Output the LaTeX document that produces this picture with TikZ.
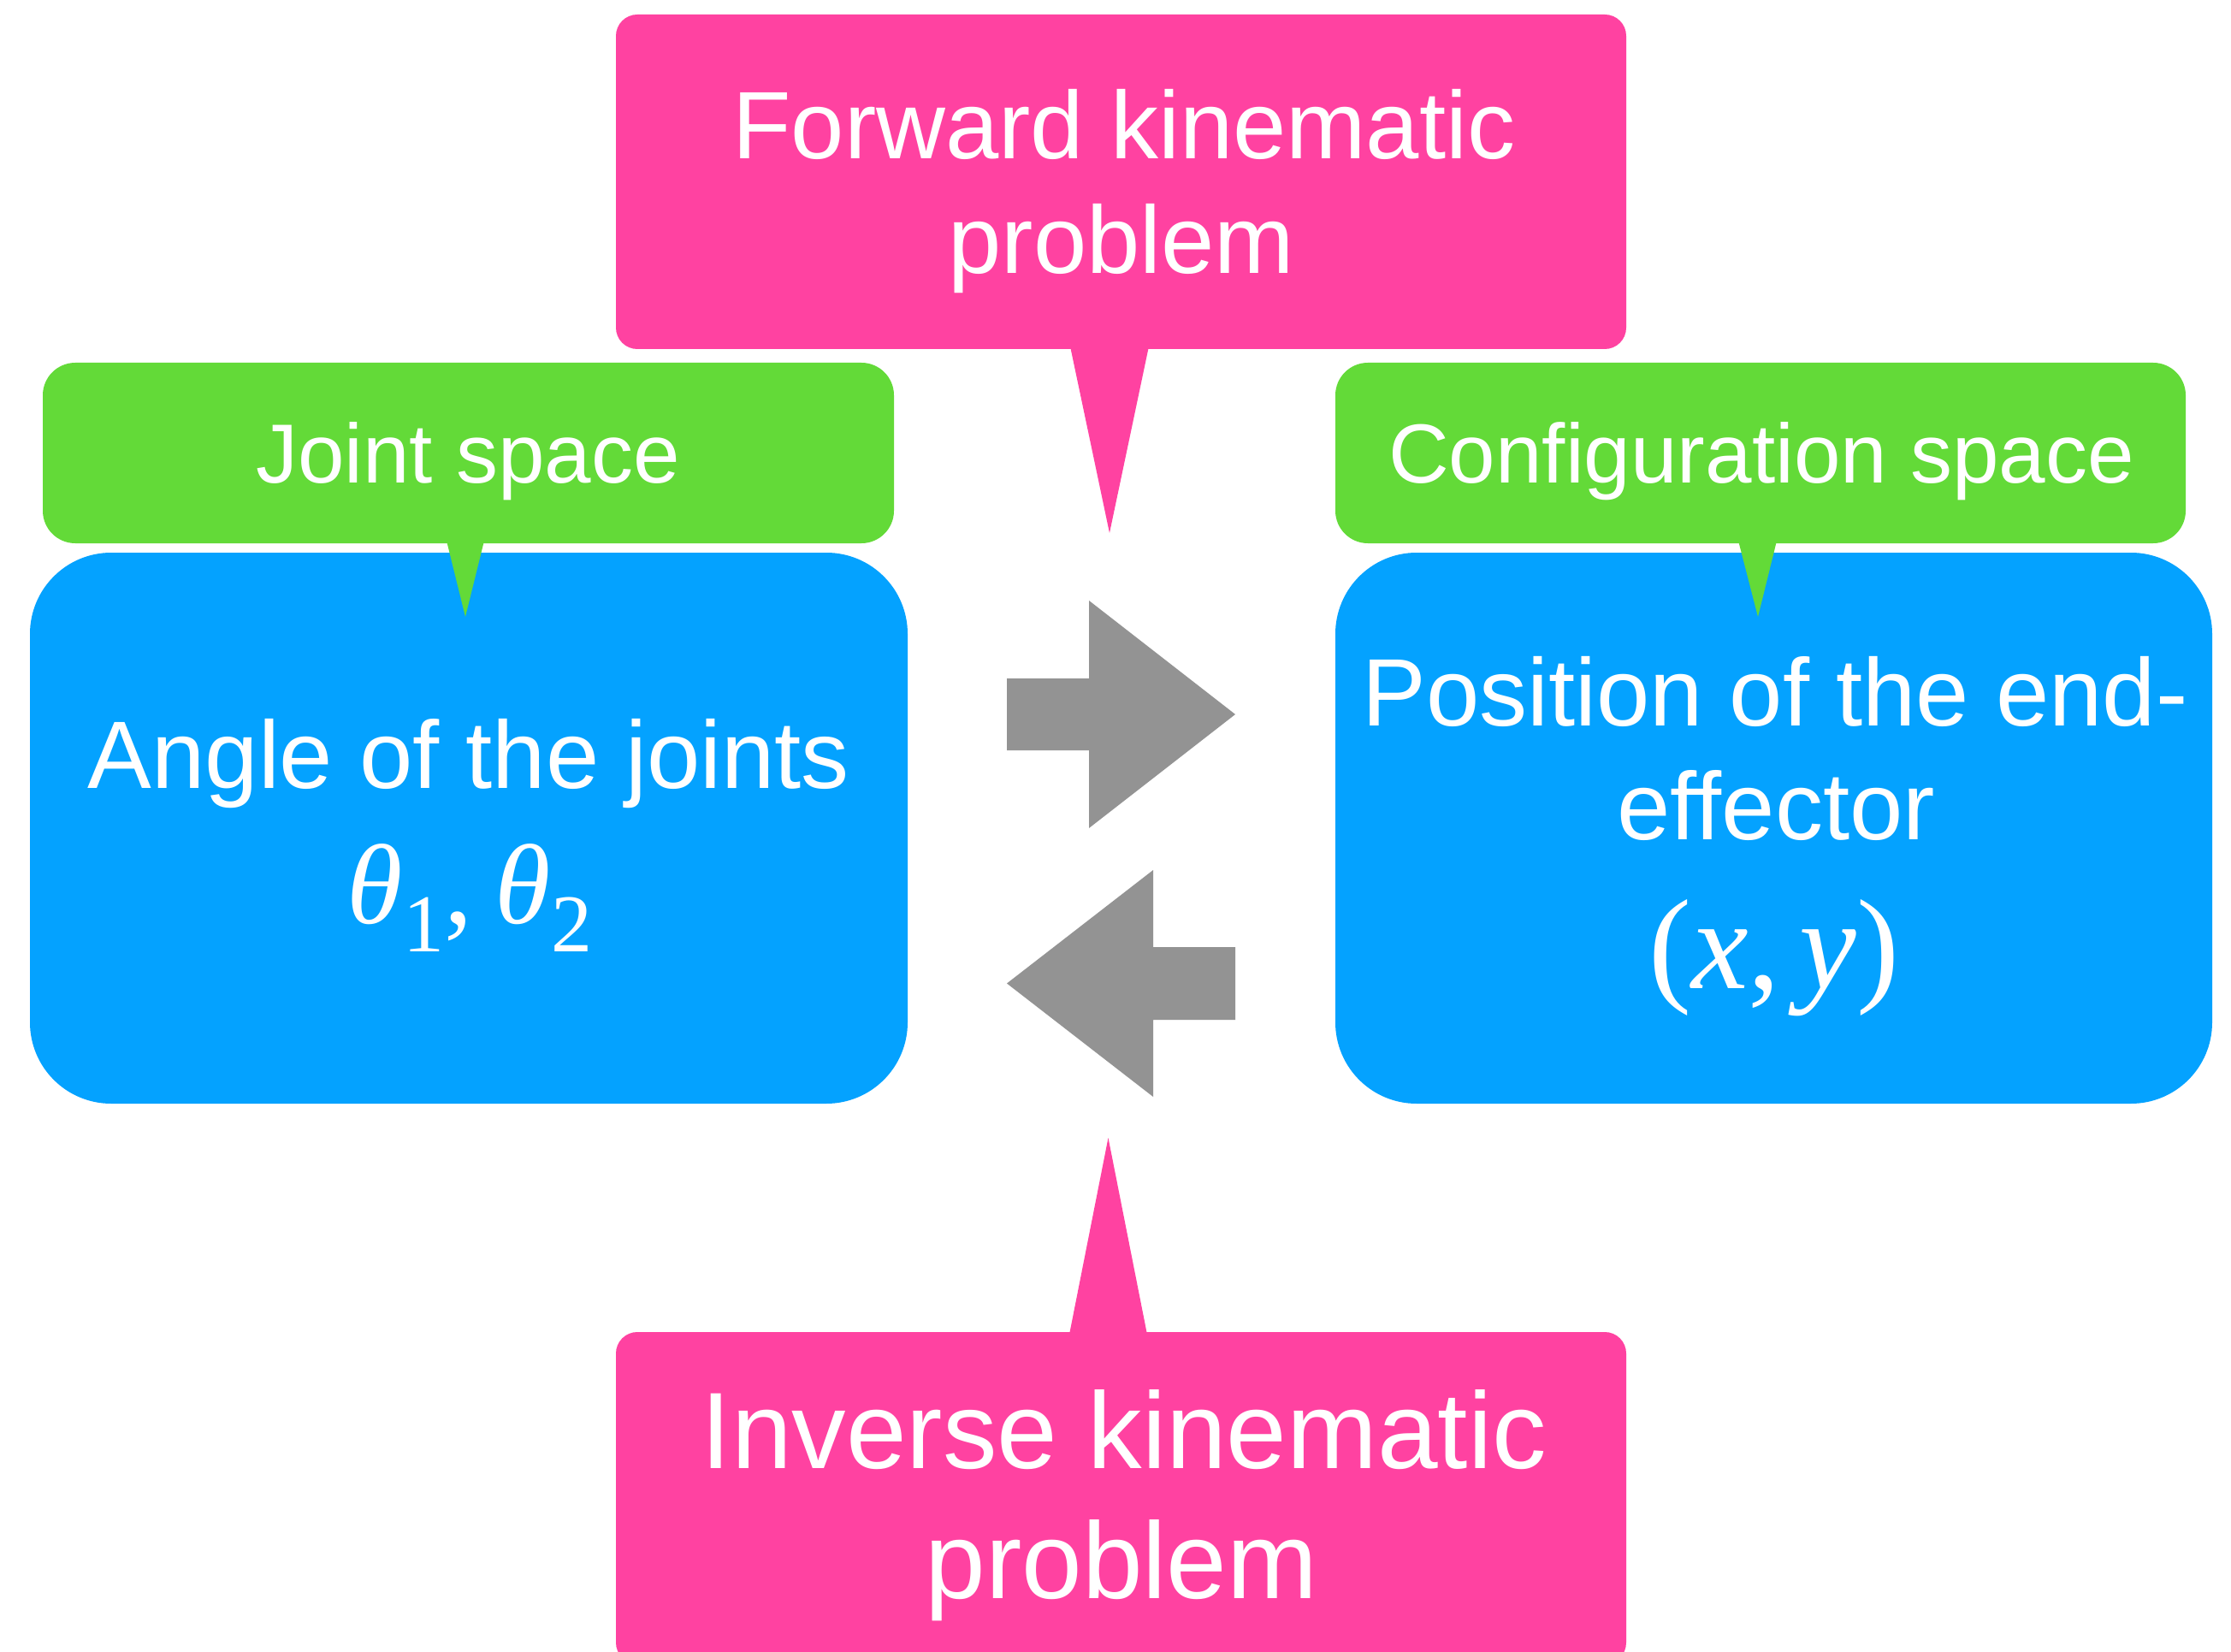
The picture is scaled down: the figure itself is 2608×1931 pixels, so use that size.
\documentclass[tikz,border=0pt]{standalone}
\usepackage{fontspec}
\setmainfont{Liberation Sans}
\newfontfamily\serifmath{Liberation Serif}
\usetikzlibrary{calc}
\definecolor{kpink}{RGB}{255,66,161}
\definecolor{kgreen}{RGB}{99,218,56}
\definecolor{kblue}{RGB}{4,162,255}
\definecolor{kgray}{RGB}{147,147,147}
\newcommand\fsmain{\fontsize{56}{67}\selectfont}
\newcommand\fsbig{\fontsize{63.5}{76}\selectfont}
\newcommand\fslabel{\fontsize{49}{59}\selectfont}
\begin{document}
\begin{tikzpicture}[x=0.5pt,y=-0.5pt,
  box/.style={rectangle, inner sep=0pt, draw=none},
  pinkbox/.style={box, fill=kpink, rounded corners=12.5pt},
  greenbox/.style={box, fill=kgreen, rounded corners=19pt},
  bluebox/.style={box, fill=kblue, rounded corners=47.5pt},
  txt/.style={text=white, anchor=base, inner sep=0pt},
  blockarrow/.style={fill=kgray}
]
\useasboundingbox (0,0) rectangle (2608,1931);
\fill[white] (0,0) rectangle (2608,1931);

% pink callouts
\node[pinkbox, minimum width=590.5pt, minimum height=195.5pt] (fwdbox) at (1310.5,212.5) {};
\fill[kpink] (1250,400) -- (1297,623) -- (1344,400) -- cycle;
\node[pinkbox, minimum width=590.5pt, minimum height=194pt] (invbox) at (1310.5,1751) {};
\fill[kpink] (1249,1565) -- (1295.5,1330) -- (1342,1565) -- cycle;

% blue boxes
\node[bluebox, minimum width=513pt, minimum height=322pt] (jointbox) at (548,968) {};
\node[bluebox, minimum width=512.5pt, minimum height=322pt] (confbox) at (2073.5,968) {};

% green labels
\node[greenbox, minimum width=497.5pt, minimum height=105.5pt] (jointlbl) at (547.5,529.5) {};
\fill[kgreen] (521,628) -- (544,721) -- (567,628) -- cycle;
\node[greenbox, minimum width=497pt, minimum height=105.5pt] (conflbl) at (2058,529.5) {};
\fill[kgreen] (2031,628) -- (2055,721) -- (2078,628) -- cycle;

% block arrows
\fill[blockarrow] (1177,793) -- (1273,793) -- (1273,702) -- (1444,835) -- (1273,968) -- (1273,877) -- (1177,877) -- cycle;
\fill[blockarrow] (1444,1107) -- (1348,1107) -- (1348,1017) -- (1177,1149.5) -- (1348,1282) -- (1348,1192) -- (1444,1192) -- cycle;

% texts
\node[txt] (fwd1) at (1314,186) {\fsmain Forward kinematic};
\node[txt] (fwd2) at (1311,319.5) {\fsmain problem};
\node[txt] (inv1) at (1314,1716) {\fsbig Inverse kinematic};
\node[txt] (inv2) at (1311,1868) {\fsbig problem};
\node[txt] (jointtxt) at (547,564) {\fslabel Joint space};
\node[txt] (conftxt) at (2059,564) {\fslabel Configuration space};
\node[txt] (angtxt) at (548,921) {\fsmain Angle of the joints};
\node[txt] (pos1) at (2075,848) {\fsmain Position of the end-};
\node[txt] (pos2) at (2076,981) {\fsmain effector};
\node[txt] (angmath) at (549,1079) {\serifmath\fontsize{66.5}{80}\selectfont\itshape θ\raisebox{-16.5pt}{\upshape\fontsize{48}{58}\selectfont 1}\upshape,\hspace{0.2em}\itshape θ\raisebox{-16.5pt}{\upshape\fontsize{48}{58}\selectfont 2}};
\node[txt] (posmath) at (2074,1155) {\serifmath\fontsize{75}{90}\selectfont(\textit{x},\hspace{0.15em}\textit{y})};
\end{tikzpicture}
\end{document}
